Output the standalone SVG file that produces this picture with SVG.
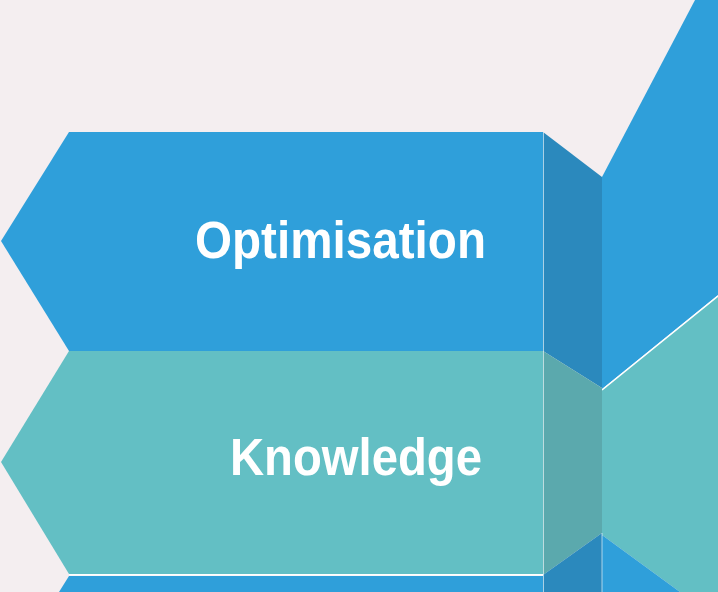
<svg xmlns="http://www.w3.org/2000/svg" width="718" height="592" viewBox="0 0 718 592">
<style>
.blue{fill:#2f9fda}
.dblue{fill:#2b89bd}
.teal{fill:#63bfc4}
.dteal{fill:#5ba9ad}
.sep{stroke:#ffffff;stroke-width:1.5;fill:none}
.sepf{stroke:#ffffff;stroke-opacity:0.6;stroke-width:1;fill:none}
.lbl{font-family:"Liberation Sans",Arial,sans-serif;font-weight:bold;font-size:51px;fill:#ffffff;text-anchor:end}
</style>
<rect width="718" height="592" fill="#f4eef0"/>
<g id="right-panels">
<polygon class="blue" points="602,177 695,0 718,0 718,295 602,389"/>
<polygon class="teal" points="602,390 718,296 718,592 680,592 602,535"/>
<polygon class="blue" points="602,535 680,592 602,592"/>
<line class="sep" x1="602" y1="390" x2="718" y2="296"/>
</g>
<g id="node-optimisation">
<polygon class="blue" points="69,132 543,132 543,351 69,351 1,241"/>
<polygon class="dblue" points="543,132 602,177 602,388 543,351"/>
<text class="lbl" x="486" y="258" textLength="291" lengthAdjust="spacingAndGlyphs">Optimisation</text>
</g>
<g id="node-knowledge">
<polygon class="teal" points="69,351 543,351 543,574 69,574 1,462"/>
<polygon class="dteal" points="543,351 602,388 602,533 543,575"/>
<text class="lbl" x="482" y="475" textLength="252" lengthAdjust="spacingAndGlyphs">Knowledge</text>
</g>
<g id="node-bottom">
<polygon class="blue" points="69,576 543,576 543,592 59,592"/>
<polygon class="dblue" points="543,575 602,533 602,592 543,592"/>
</g>
<g id="connectors">
<line class="sepf" x1="543.5" y1="132" x2="543.5" y2="592"/>
<line class="sepf" x1="602" y1="533" x2="602" y2="592"/>
<line class="sep" x1="69" y1="574.7" x2="543" y2="574.7"/>
</g>
</svg>
